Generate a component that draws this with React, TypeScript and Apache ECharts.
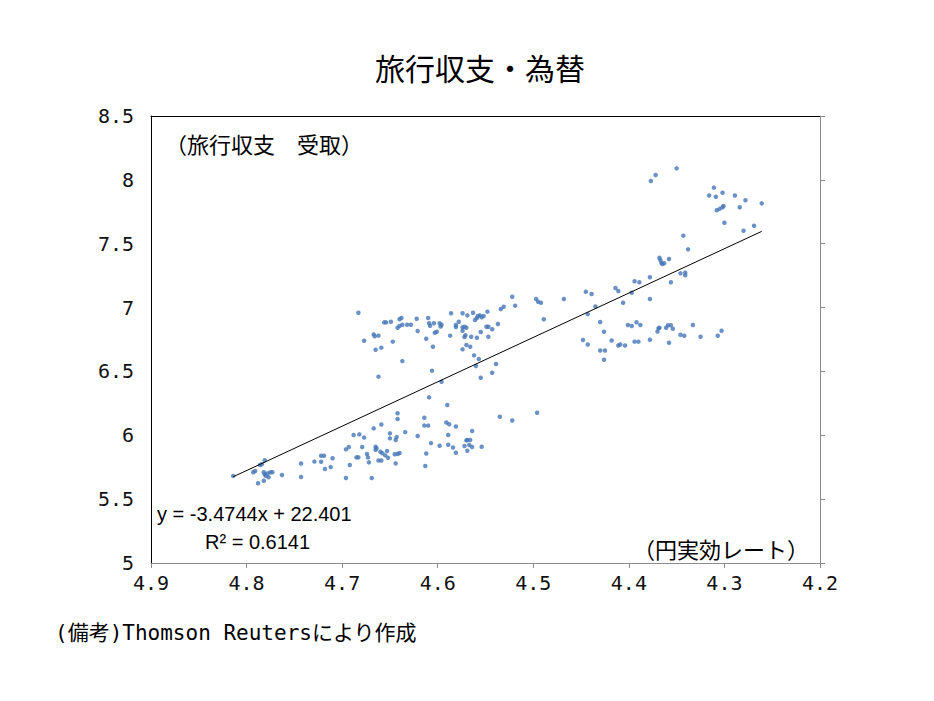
import React, { useEffect, useRef } from "react";
import * as echarts from "echarts";

// Tick values
const X_MIN = 4.2;
const X_MAX = 4.9;
const X_STEP = 0.1;
const Y_MIN = 5;
const Y_MAX = 8.5;
const Y_STEP = 0.5;

// Regression (as printed on the chart)
const SLOPE = -3.4744;
const INTERCEPT = 22.401;
const EQUATION_TEXT = "y = -3.4744x + 22.401";
const R2_TEXT = "R² = 0.6141";

const TITLE = "旅行収支・為替";
const Y_NOTE = "（旅行収支　受取）";
const X_NOTE = "（円実効レート）";
const SOURCE = "(備考)Thomson Reutersにより作成";

// Scatter points [円実効レート (log), 旅行収支受取 (log)]
const clusterLowLeft: number[][] = [
  [4.814, 5.682], [4.793, 5.71], [4.791, 5.72], [4.788, 5.624], [4.786, 5.767], [4.784, 5.773],
  [4.781, 5.804], [4.782, 5.71], [4.781, 5.694], [4.78, 5.683], [4.778, 5.702], [4.775, 5.71],
  [4.773, 5.71], [4.777, 5.671], [4.782, 5.644], [4.763, 5.689], [4.743, 5.779], [4.743, 5.673],
  [4.729, 5.794], [4.722, 5.84], [4.719, 5.84], [4.722, 5.793], [4.718, 5.736], [4.712, 5.751],
  [4.71, 5.82], [4.696, 5.89], [4.693, 5.908], [4.696, 5.665], [4.692, 5.767], [4.688, 6.002],
  [4.682, 6.007], [4.677, 5.982], [4.685, 5.827], [4.683, 5.827], [4.679, 5.908], [4.674, 5.853],
  [4.673, 5.827], [4.672, 5.788], [4.667, 6.054], [4.659, 6.084], [4.665, 5.91], [4.664, 5.898],
  [4.665, 5.887], [4.669, 5.665], [4.66, 5.871], [4.658, 5.859], [4.662, 5.802], [4.659, 5.802],
  [4.655, 5.843], [4.653, 5.877], [4.652, 5.824], [4.65, 6.015], [4.65, 5.976], [4.644, 5.963],
  [4.643, 5.986], [4.645, 5.851], [4.644, 5.78], [4.642, 6.172], [4.642, 6.127], [4.642, 5.853],
  [4.64, 5.861],
];

const clusterLowMid: number[][] = [
  [4.554, 5.91], [4.609, 6.297], [4.59, 6.237], [4.614, 6.137], [4.614, 6.076], [4.61, 6.076],
  [4.591, 6.1], [4.588, 6.086], [4.581, 6.069], [4.564, 6.033], [4.634, 6.025], [4.621, 5.994],
  [4.589, 6.002], [4.607, 5.939], [4.598, 5.918], [4.589, 5.926], [4.584, 5.904], [4.581, 5.863],
  [4.612, 5.857], [4.613, 5.759], [4.57, 5.96], [4.569, 5.963], [4.566, 5.963], [4.572, 5.916],
  [4.567, 5.924], [4.564, 5.908], [4.569, 5.879],
];

const clusterUpperLeft: number[][] = [
  [4.683, 6.96], [4.656, 6.884], [4.654, 6.884], [4.649, 6.889], [4.64, 6.908], [4.638, 6.918],
  [4.642, 6.842], [4.64, 6.856], [4.637, 6.866], [4.667, 6.79], [4.666, 6.775], [4.662, 6.78],
  [4.677, 6.74], [4.647, 6.733], [4.665, 6.67], [4.659, 6.686], [4.637, 6.581], [4.662, 6.459],
  [4.632, 6.866], [4.628, 6.866], [4.622, 6.913], [4.621, 6.816], [4.612, 6.756], [4.61, 6.918],
  [4.609, 6.877], [4.608, 6.858], [4.604, 6.877], [4.598, 6.877], [4.596, 6.866], [4.597, 6.852],
  [4.605, 6.693], [4.603, 6.803], [4.601, 6.811], [4.587, 6.78], [4.586, 6.955], [4.581, 6.863],
  [4.581, 6.848], [4.578, 6.889], [4.574, 6.955], [4.569, 6.939], [4.563, 6.96], [4.561, 6.903],
  [4.559, 6.918], [4.558, 6.934], [4.556, 6.939], [4.554, 6.924], [4.552, 6.934], [4.548, 6.968],
  [4.574, 6.845], [4.572, 6.85], [4.57, 6.842], [4.574, 6.819], [4.571, 6.783], [4.572, 6.769],
  [4.565, 6.772], [4.559, 6.764], [4.555, 6.809], [4.549, 6.85], [4.547, 6.85], [4.543, 6.83],
  [4.537, 6.871], [4.547, 6.772], [4.574, 6.673], [4.57, 6.707], [4.566, 6.693], [4.562, 6.626],
  [4.557, 6.597], [4.56, 6.542], [4.539, 6.558], [4.543, 6.49], [4.555, 6.451], [4.606, 6.506],
  [4.596, 6.419],
];

const clusterMid: number[][] = [
  [4.534, 6.989], [4.531, 7.007], [4.522, 7.085], [4.519, 7.015], [4.497, 7.067], [4.495, 7.046],
  [4.492, 7.038], [4.489, 6.908], [4.468, 7.067], [4.445, 7.124], [4.439, 7.106], [4.448, 6.746],
  [4.443, 6.711], [4.535, 6.145], [4.522, 6.116], [4.496, 6.177],
];

const clusterRight: number[][] = [
  [4.435, 7.008], [4.443, 6.949], [4.43, 6.887], [4.426, 6.811], [4.414, 7.153], [4.411, 7.13],
  [4.406, 7.038], [4.397, 7.116], [4.394, 7.206], [4.389, 7.198], [4.378, 7.237], [4.378, 7.067],
  [4.418, 6.742], [4.411, 6.703], [4.409, 6.711], [4.404, 6.703], [4.401, 6.863], [4.397, 6.856],
  [4.392, 6.885], [4.388, 6.863], [4.394, 6.733], [4.39, 6.733], [4.378, 6.748], [4.37, 6.812],
  [4.369, 6.837], [4.368, 6.842], [4.361, 6.842], [4.359, 6.862], [4.356, 6.861], [4.354, 6.834],
  [4.358, 6.725], [4.346, 6.787], [4.342, 6.779], [4.333, 6.863], [4.325, 6.772], [4.307, 6.779],
  [4.303, 6.818], [4.368, 7.39], [4.367, 7.372], [4.366, 7.351], [4.365, 7.341], [4.363, 7.347],
  [4.358, 7.38], [4.356, 7.198], [4.346, 7.268], [4.341, 7.274], [4.341, 7.253], [4.343, 7.563],
  [4.338, 7.456], [4.377, 7.991], [4.372, 8.038], [4.35, 8.09], [4.316, 7.877], [4.311, 7.939],
  [4.309, 7.868], [4.302, 7.899], [4.289, 7.877], [4.278, 7.84], [4.308, 7.762], [4.305, 7.773],
  [4.302, 7.786], [4.301, 7.795], [4.284, 7.786], [4.3, 7.664], [4.28, 7.602], [4.269, 7.641],
  [4.261, 7.816], [4.43, 6.664], [4.425, 6.664], [4.426, 6.592],
];

const allPoints = [
  ...clusterLowLeft,
  ...clusterLowMid,
  ...clusterUpperLeft,
  ...clusterMid,
  ...clusterRight,
];

export default function App() {
  const ref = useRef<HTMLDivElement>(null);

  useEffect(() => {
    if (!ref.current) return;
    const chart = echarts.init(ref.current, undefined, { renderer: "svg" });

    const xs = allPoints.map((p) => p[0]);
    const xLo = Math.min(...xs);
    const xHi = Math.max(...xs);
    const trend = [xHi, xLo].map((x) => [x, SLOPE * x + INTERCEPT]);

    const tickFont = "'DejaVu Sans Mono', 'Noto Sans CJK JP', monospace";
    const cjk = "'Noto Sans CJK JP', sans-serif";

    chart.setOption({
      animation: false,
      backgroundColor: "#fff",
      grid: { left: 151, right: 114, top: 116, bottom: 138, containLabel: false },
      xAxis: [
        {
          type: "value",
          min: X_MIN,
          max: X_MAX,
          interval: X_STEP,
          inverse: true,
          position: "bottom",
          axisLine: { show: true, onZero: false, lineStyle: { color: "#8c8c8c", width: 1 } },
          axisTick: { show: true, inside: false, length: 5, lineStyle: { color: "#8c8c8c" } },
          axisLabel: {
            margin: 10,
            fontFamily: tickFont,
            fontSize: 20,
            color: "#111",
            formatter: (v: number) => v.toFixed(1),
          },
          splitLine: { show: false },
        },
        {
          type: "value",
          min: X_MIN,
          max: X_MAX,
          interval: X_STEP,
          inverse: true,
          position: "top",
          axisLine: { show: true, onZero: false, lineStyle: { color: "#000", width: 1 } },
          axisTick: { show: false },
          axisLabel: { show: false },
          splitLine: { show: false },
        },
      ],
      yAxis: [
        {
          type: "value",
          min: Y_MIN,
          max: Y_MAX,
          interval: Y_STEP,
          position: "left",
          axisLine: { show: true, onZero: false, lineStyle: { color: "#000", width: 1 } },
          axisTick: { show: false },
          axisLabel: {
            margin: 17,
            fontFamily: tickFont,
            fontSize: 20,
            color: "#111",
          },
          splitLine: { show: false },
        },
        {
          type: "value",
          min: Y_MIN,
          max: Y_MAX,
          interval: Y_STEP,
          position: "right",
          axisLine: { show: true, onZero: false, lineStyle: { color: "#8c8c8c", width: 1 } },
          axisTick: { show: true, inside: false, length: 5, lineStyle: { color: "#8c8c8c" } },
          axisLabel: { show: false },
          splitLine: { show: false },
        },
      ],
      series: [
        {
          type: "scatter",
          xAxisIndex: 0,
          yAxisIndex: 0,
          data: allPoints,
          symbol: "circle",
          symbolSize: 4.5,
          itemStyle: { color: "#4677b8" },
          z: 3,
        },
        {
          type: "line",
          xAxisIndex: 0,
          yAxisIndex: 0,
          data: trend,
          symbol: "none",
          lineStyle: { color: "#000", width: 1 },
          z: 4,
        },
      ],
      graphic: [
        {
          type: "text",
          x: 480,
          y: 67,
          style: {
            text: TITLE,
            font: `30px ${cjk}`,
            fill: "#000",
            textAlign: "center",
            textVerticalAlign: "middle",
          },
        },
        {
          type: "text",
          x: 165,
          y: 143,
          style: {
            text: Y_NOTE,
            font: `22px ${cjk}`,
            fill: "#000",
            textAlign: "left",
            textVerticalAlign: "middle",
          },
        },
        {
          type: "text",
          x: 633,
          y: 548,
          style: {
            text: X_NOTE,
            font: `22px ${cjk}`,
            fill: "#000",
            textAlign: "left",
            textVerticalAlign: "middle",
          },
        },
        {
          type: "text",
          x: 157,
          y: 514,
          style: {
            text: EQUATION_TEXT,
            font: "20px 'Liberation Sans', Arial, sans-serif",
            fill: "#000",
            textAlign: "left",
            textVerticalAlign: "middle",
          },
        },
        {
          type: "text",
          x: 205,
          y: 542,
          style: {
            text: R2_TEXT,
            font: "20px 'Liberation Sans', Arial, sans-serif",
            fill: "#000",
            textAlign: "left",
            textVerticalAlign: "middle",
          },
        },
        {
          type: "text",
          x: 55,
          y: 633,
          style: {
            text: SOURCE,
            font: `21px ${tickFont}`,
            fill: "#000",
            textAlign: "left",
            textVerticalAlign: "middle",
          },
        },
      ],
    });

    return () => chart.dispose();
  }, []);

  return (
    <div
      ref={ref}
      style={{ position: "fixed", left: 0, top: 0, width: 934, height: 701, background: "#fff" }}
    />
  );
}
